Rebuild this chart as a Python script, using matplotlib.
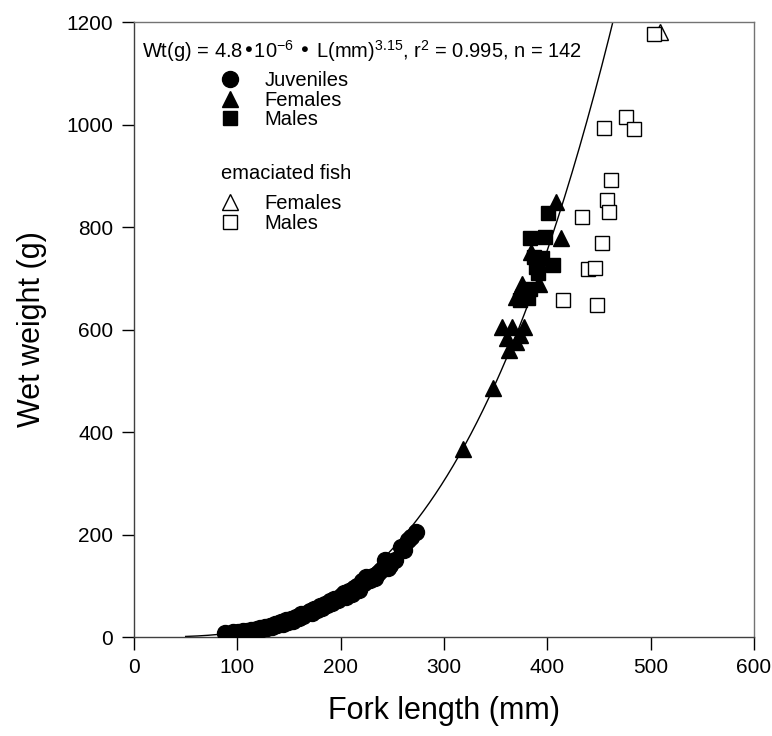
import numpy as np
import matplotlib
matplotlib.use("Agg")
import matplotlib.pyplot as plt
from matplotlib.lines import Line2D

plt.rcParams['font.family'] = ['Liberation Sans', 'DejaVu Sans']
plt.rcParams['mathtext.default'] = 'regular'

# fitted curve parameters  Wt = a * L^b
a_coef = 4.8e-6
b_coef = 3.15

# juveniles (filled circles)
juv_len = [88, 96, 101, 105, 109, 113, 116, 119, 122, 124, 127, 129, 132, 134, 136,
           138, 140, 142, 144, 147, 149, 152, 154, 157, 160, 162, 164, 167, 170, 172,
           174, 177, 180, 182, 185, 187, 190, 192, 194, 197, 200, 203, 205, 208, 211,
           213, 216, 218, 221, 223, 225, 228, 231, 233, 236, 239, 243, 246, 248, 253,
           258, 261, 265, 268, 273]
juv_wt = [7, 9, 10, 11, 12, 14, 13, 16, 17, 15, 20, 18, 22, 19, 25,
          23, 27, 30, 26, 33, 30, 36, 32, 40, 38, 44, 41, 47, 50, 46,
          55, 52, 60, 57, 65, 62, 70, 66, 75, 72, 80, 85, 78, 90, 84,
          95, 100, 92, 110, 105, 118, 112, 120, 115, 125, 130, 150, 135, 140, 150,
          175, 170, 190, 195, 205]

# females (filled triangles)
fem_len = [318, 347, 356, 363, 361, 366, 370, 374, 377, 370, 376, 392, 384, 408, 413]
fem_wt = [367, 486, 605, 560, 583, 605, 576, 589, 605, 664, 688, 688, 751, 849, 778]

# males (filled squares)
male_len = [374, 381, 383, 387, 389, 391, 395, 398, 401, 406, 383]
male_wt = [658, 661, 778, 741, 722, 710, 739, 780, 827, 726, 680]

# emaciated fish (open symbols)
ema_fem_len = [509]
ema_fem_wt = [1180]
ema_male_len = [415, 434, 439, 446, 448, 453, 458, 460, 462, 455, 476, 484, 503]
ema_male_wt = [658, 820, 718, 720, 648, 769, 853, 829, 892, 993, 1015, 991, 1177]

fig = plt.figure(figsize=(7.72, 7.36), dpi=100)
ax = fig.add_axes([0.1736, 0.1345, 0.803, 0.8355])

L = np.linspace(50, 480, 300)
ax.plot(L, a_coef * L ** b_coef, color='black', lw=1.0, zorder=2)

ax.plot(juv_len, juv_wt, 'o', color='black', ms=11.5, zorder=3)
ax.plot(fem_len, fem_wt, '^', color='black', ms=11.5, zorder=3)
ax.plot(male_len, male_wt, 's', color='black', ms=10, zorder=3)
ax.plot(ema_fem_len, ema_fem_wt, '^', mfc='white', mec='black', mew=1.0, ms=11,
        zorder=4, clip_on=False)
ax.plot(ema_male_len, ema_male_wt, 's', mfc='white', mec='black', mew=1.0, ms=10,
        zorder=4, clip_on=False)

ax.set_xlim(0, 600)
ax.set_ylim(0, 1200)
ax.set_xticks(np.arange(0, 601, 100))
ax.set_yticks(np.arange(0, 1201, 200))
ax.tick_params(direction='out', length=9, width=1, labelsize=15, pad=6)
for sp in ax.spines.values():
    sp.set_linewidth(1.0)
    sp.set_color('0.25')
ax.spines['top'].set_color('0.45')
ax.spines['right'].set_color('0.45')

ax.set_xlabel('Fork length (mm)', fontsize=22, labelpad=14)
ax.set_ylabel('Wet weight (g)', fontsize=22, labelpad=14)

ax.text(0.013, 0.953, 'Wt(g) = 4.8•10$^{-6}$ • L(mm)$^{3.15}$, r$^2$ = 0.995, n = 142',
        transform=ax.transAxes, fontsize=14.5, va='center', ha='left')

h1 = [Line2D([], [], ls='none', marker='o', color='black', ms=11.5),
      Line2D([], [], ls='none', marker='^', color='black', ms=11.5),
      Line2D([], [], ls='none', marker='s', color='black', ms=10)]
leg1 = ax.legend(h1, ['Juveniles', 'Females', 'Males'], loc='upper left',
                 bbox_to_anchor=(0.139, 0.92), frameon=False, fontsize=14.5,
                 handlelength=1.0, handletextpad=1.2, labelspacing=0.02,
                 borderpad=0, borderaxespad=0)
ax.add_artist(leg1)

ax.text(0.140, 0.754, 'emaciated fish', transform=ax.transAxes, fontsize=14.5,
        va='center', ha='left')

h2 = [Line2D([], [], ls='none', marker='^', mfc='white', mec='black', mew=1.0, ms=11),
      Line2D([], [], ls='none', marker='s', mfc='white', mec='black', mew=1.0, ms=10)]
ax.legend(h2, ['Females', 'Males'], loc='upper left',
          bbox_to_anchor=(0.139, 0.72), frameon=False, fontsize=14.5,
          handlelength=1.0, handletextpad=1.2, labelspacing=0.02,
          borderpad=0, borderaxespad=0)

fig.savefig('out.png', dpi=100)
